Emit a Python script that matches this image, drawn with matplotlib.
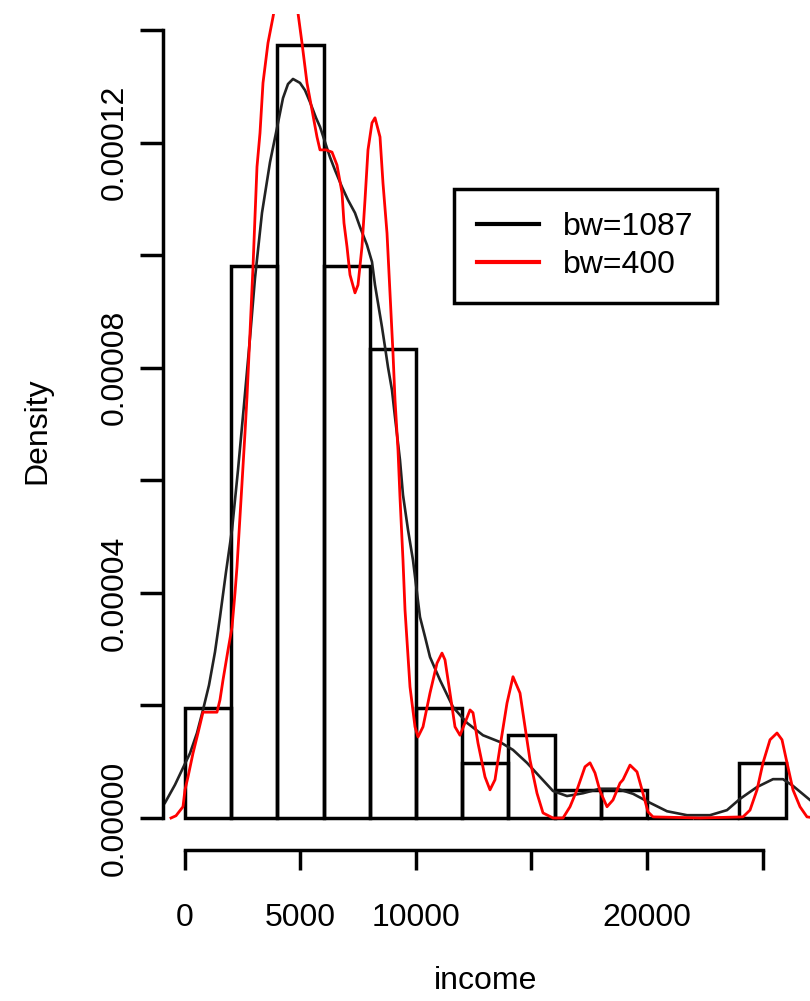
"""
Histogram of income with two kernel density curves (bw=1087 and bw=400),
drawn in the style of an R base-graphics plot.
"""

import numpy as np
import matplotlib
matplotlib.use('Agg')
import matplotlib.pyplot as plt

plt.rcParams['font.family'] = ['Liberation Sans', 'DejaVu Sans']

# histogram (counts per 2000-wide bin)
bin_edges  = [0, 2000, 4000, 6000, 8000, 10000, 12000, 14000,
              16000, 18000, 20000, 22000, 24000, 26000]
bin_counts = [4, 20, 28, 20, 17, 4, 2, 3, 1, 1, 0, 0, 2]

# density curve, bw=1087 (density values in units of 1e-5)
bw1087_x = [-1210, -866, -433, -87, 216, 519, 779, 1039, 1299, 1515, 1775,
            2035, 2294, 2554, 2814, 3030, 3333, 3680, 3983, 4242, 4459,
            4675, 4978, 5195, 5411, 5671, 5844, 6061, 6277, 6494, 6797,
            7056, 7359, 7576, 7879, 8095, 8225, 8355, 8528, 8658, 8788,
            8961, 9091, 9307, 9437, 9654, 9870, 10043, 10173, 10390, 10606,
            11039, 11602, 12208, 12900, 13636, 14199, 14805, 15368, 15931,
            16537, 17229, 17965, 18701, 19394, 20130, 20866, 21732, 22727,
            23463, 24026, 24762, 25455, 25887, 26320, 27056, 27489]
bw1087_y = [0.09, 0.27, 0.59, 0.89, 1.15, 1.51, 1.92, 2.36, 2.95, 3.57, 4.37,
            5.12, 6.18, 7.34, 8.53, 9.59, 10.75, 11.65, 12.26, 12.79, 13.04,
            13.13, 13.06, 12.93, 12.72, 12.44, 12.28, 12.01, 11.74, 11.51, 11.21,
            10.98, 10.75, 10.50, 10.18, 9.88, 9.47, 9.15, 8.72, 8.37, 8.01,
            7.60, 7.12, 6.36, 5.74, 5.12, 4.58, 4.00, 3.57, 3.22, 2.86,
            2.45, 1.97, 1.69, 1.47, 1.35, 1.21, 0.98, 0.73, 0.48,
            0.39, 0.44, 0.52, 0.52, 0.43, 0.27, 0.12, 0.05, 0.05,
            0.14, 0.34, 0.55, 0.69, 0.69, 0.57, 0.32, 0.18]

# density curve, bw=400 (density values in units of 1e-5)
bw400_x = [-606, -390, -87, 0, 130, 346, 563, 779, 1082, 1385, 1515, 1645,
           1861, 2035, 2165, 2251, 2338, 2468, 2597, 2684, 2814, 2944, 3030,
           3117, 3247, 3377, 3593, 3810, 3939, 4372, 4805, 4892, 5065, 5281,
           5498, 5714, 5844, 6104, 6364, 6580, 6797, 6883, 7013, 7143, 7359,
           7489, 7662, 7792, 7922, 8095, 8225, 8442, 8571, 8745, 8874, 9004,
           9091, 9221, 9307, 9437, 9524, 9740, 9957, 10087, 10303, 10606,
           10909, 11125, 11255, 11472, 11688, 11905, 12121, 12338, 12468,
           12684, 12987, 13203, 13420, 13636, 13939, 14199, 14502, 14719,
           14935, 15238, 15498, 15931, 16364, 16667, 16970, 17316, 17533,
           17749, 17965, 18268, 18528, 18831, 18961, 19264, 19567, 19784,
           20043, 20260, 22294, 24156, 24459, 24762, 25022, 25325, 25628,
           25844, 26061, 26320, 26623, 26926, 27273]
bw400_y = [0.00, 0.04, 0.20, 0.50, 0.73, 1.15, 1.51, 1.88, 1.88, 1.88, 2.10, 2.45,
           2.98, 3.39, 4.00, 4.46, 5.06, 5.95, 6.84, 7.48, 8.62, 9.79, 10.68,
           11.57, 12.17, 13.06, 13.77, 14.23, 14.53, 14.98, 14.53, 14.30, 13.77, 13.06,
           12.58, 12.10, 11.87, 11.87, 11.83, 11.60, 11.11, 10.57, 10.15, 9.65, 9.33,
           9.47, 10.15, 10.98, 11.87, 12.35, 12.44, 12.10, 11.28, 10.39, 9.33, 8.26,
           7.43, 6.54, 5.70, 4.58, 3.70, 2.33, 1.62, 1.44, 1.62, 2.22,
           2.75, 2.93, 2.81, 2.22, 1.62, 1.47, 1.69, 1.92, 1.87,
           1.33, 0.73, 0.50, 0.68, 1.26, 2.04, 2.51, 2.22, 1.62,
           1.03, 0.44, 0.09, 0.00, 0.00, 0.20, 0.50, 0.91, 0.98,
           0.80, 0.48, 0.20, 0.32, 0.62, 0.68, 0.94, 0.82, 0.50,
           0.11, 0.02, 0.00, 0.02, 0.14, 0.50, 0.98, 1.39, 1.51,
           1.39, 0.98, 0.50, 0.20, 0.02, 0.00]

y_ticks  = [0, 0.00002, 0.00004, 0.00006, 0.00008, 0.00010, 0.00012, 0.00014]
y_labels = ['0.00000', '', '0.00004', '', '0.00008', '', '0.00012', '']
x_ticks  = [0, 5000, 10000, 15000, 20000, 25000]
x_labels = ['0', '5000', '10000', '', '20000', '']

FS = 23
W, H = 810, 1001

fig = plt.figure(figsize=(W / 100, H / 100), dpi=100)
ax = fig.add_axes([163 / W, 1 - 850 / H, 1 - 163 / W, (850 - 13.5) / H])
ax.set_xlim(-952, 27056)
ax.set_ylim(-0.5685e-5, 14.293e-5)

counts = np.array(bin_counts, dtype=float)
widths = np.diff(bin_edges)
dens = counts / counts.sum() / widths
ax.bar(bin_edges[:-1], dens, width=widths, align='edge',
       fill=False, edgecolor='black', linewidth=2.5)

l1, = ax.plot(bw1087_x, np.array(bw1087_y) * 1e-5, color='#222222', lw=1.9,
              label='bw=1087', solid_joinstyle='round')
l2, = ax.plot(bw400_x, np.array(bw400_y) * 1e-5, color='#ff0000', lw=2.0,
              label='bw=400', solid_joinstyle='round')

# R-style axes: lines only between first and last tick
for side in ['top', 'right']:
    ax.spines[side].set_visible(False)
ax.spines['left'].set_bounds(y_ticks[0], y_ticks[-1])
ax.spines['bottom'].set_bounds(x_ticks[0], x_ticks[-1])
ax.spines['left'].set_linewidth(2.5)
ax.spines['bottom'].set_linewidth(2.5)

ax.set_yticks(y_ticks)
ax.set_yticklabels(y_labels, rotation=90, va='center', ha='right', fontsize=FS)
ax.set_xticks(x_ticks)
ax.set_xticklabels(x_labels, fontsize=FS)
ax.tick_params(axis='y', direction='out', length=16.6, width=2.5, pad=7.6)
ax.tick_params(axis='x', direction='out', length=14.4, width=2.5, pad=23.5)

fig.text(37 / W, 1 - 431 / H, 'Density', rotation=90, ha='center', va='center',
         fontsize=FS)
fig.text(486 / W, 1 - 966 / H, 'income', ha='center', va='top', fontsize=FS)

leg = ax.legend(handles=[l1, l2], labels=['bw=1087', 'bw=400'],
                loc='upper left', bbox_to_anchor=(454 / W, 1 - 189 / H),
                bbox_transform=fig.transFigure, borderaxespad=0,
                fontsize=FS, fancybox=False, framealpha=1,
                borderpad=0.72, handlelength=1.95, handletextpad=0.75,
                labelspacing=0.25)
leg.get_frame().set_edgecolor('black')
leg.get_frame().set_linewidth(2.5)
for h in leg.get_lines():
    h.set_linewidth(3)
leg.get_lines()[0].set_color('black')

fig.savefig('out.png', dpi=100)
